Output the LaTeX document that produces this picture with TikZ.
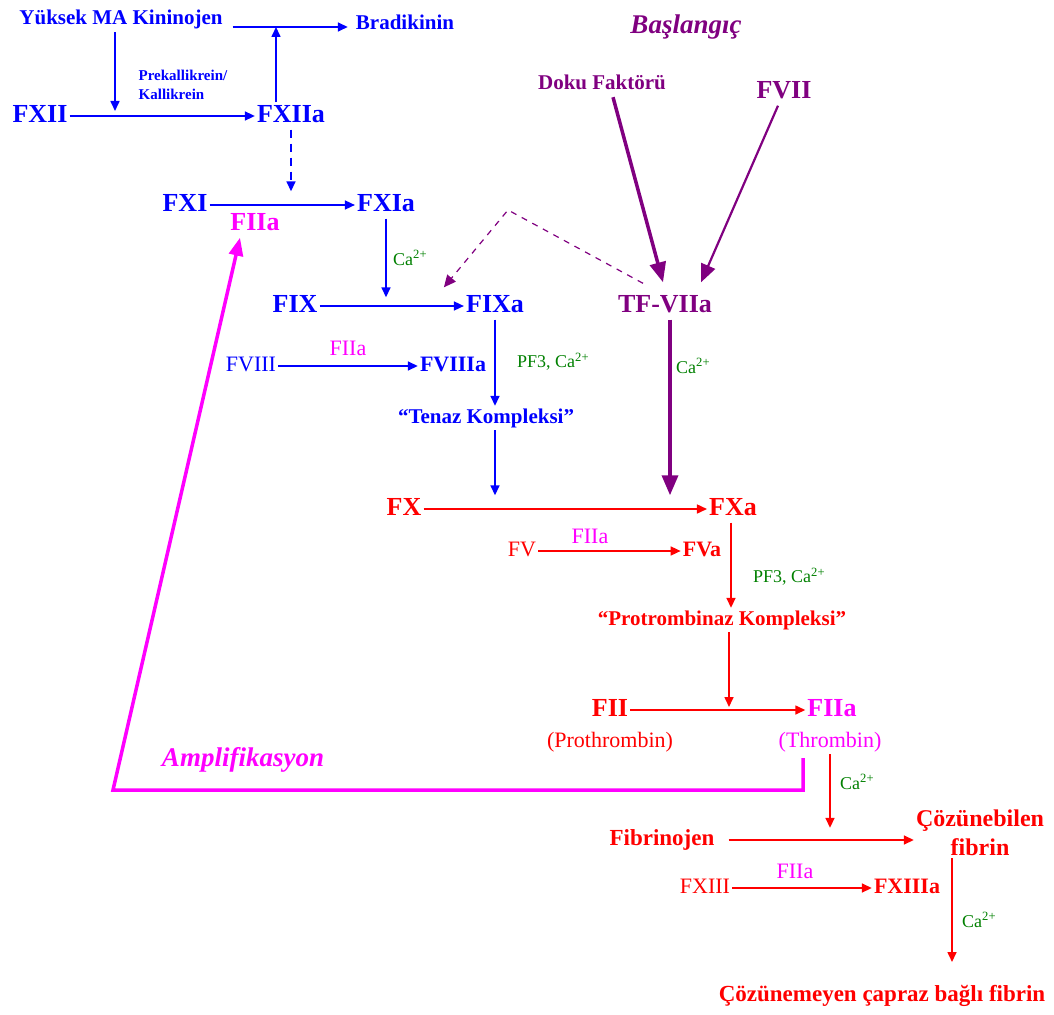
\documentclass[tikz,border=0pt]{standalone}
\usepackage{fontspec}
\setmainfont{Liberation Serif}
\usetikzlibrary{arrows.meta}
\definecolor{fblue}{RGB}{0,0,255}
\definecolor{fred}{RGB}{255,0,0}
\definecolor{fmag}{RGB}{255,0,255}
\definecolor{fpurple}{RGB}{128,0,128}
\definecolor{fgreen}{RGB}{0,128,0}
\begin{document}
\begin{tikzpicture}[x=1pt,y=-1pt,
	big/.style={inner sep=2pt,text height=18pt,text depth=5pt,font=\bfseries\fontsize{26}{28}\selectfont},
	mid/.style={inner sep=2pt,text height=15pt,text depth=4pt,font=\bfseries\fontsize{22}{24}\selectfont},
	lab/.style={inner sep=2pt,text height=15pt,text depth=5pt,font=\bfseries\fontsize{21}{23}\selectfont},
	reg/.style={inner sep=2pt,text height=15pt,text depth=5pt,font=\fontsize{22}{24}\selectfont},
	ttl/.style={inner sep=2pt,font=\bfseries\itshape\fontsize{27}{29}\selectfont},
	ion/.style={inner sep=0pt,anchor=west,text=fgreen,font=\fontsize{18}{20}\selectfont},
	arr/.style={line width=1.6pt,-{Triangle[length=10pt,width=9pt]}},
	thk/.style={line width=3.5pt,-{Triangle[length=20pt,width=16pt]}}]
	\useasboundingbox (0,0) rectangle (1054,1014);
	\node[lab,fblue] (hmwk) at (121,20) {Yüksek MA Kininojen};
	\node[lab,fblue] (brad) at (405,25) {Bradikinin};
	\node[inner sep=0pt,fblue,align=left,font=\bfseries\fontsize{15}{19}\selectfont] (prek) at (183,85) {Prekallikrein/\\Kallikrein};
	\node[big,fblue] (fxii) at (40,116) {FXII};
	\node[big,fblue] (fxiia) at (291,116) {FXIIa};
	\node[big,fblue] (fxi) at (185,205) {FXI};
	\node[big,fblue] (fxia) at (386,205) {FXIa};
	\node[big,fmag] (fiia1) at (255,224) {FIIa};
	\node[big,fblue] (fix) at (295,306) {FIX};
	\node[big,fblue] (fixa) at (495,306) {FIXa};
	\node[reg,fblue] (fviii) at (251,366) {FVIII};
	\node[mid,fblue] (fviiia) at (453,366) {FVIIIa};
	\node[reg,fmag] (fiia2) at (348,350) {FIIa};
	\node[lab,fblue] (tenaz) at (486,418) {“Tenaz Kompleksi”};
	\node[ttl,fpurple] (basla) at (686,27) {Başlangıç};
	\node[lab,fpurple] (doku) at (602,85) {Doku Faktörü};
	\node[big,fpurple] (fvii) at (784,92) {FVII};
	\node[big,fpurple] (tfviia) at (665,306) {TF-VIIa};
	\node[big,fred] (fx) at (404,509) {FX};
	\node[big,fred] (fxa) at (733,509) {FXa};
	\node[reg,fred] (fv) at (522,551) {FV};
	\node[mid,fred] (fva) at (702,551) {FVa};
	\node[reg,fmag] (fiia3) at (590,538) {FIIa};
	\node[lab,fred] (prot) at (722,620) {“Protrombinaz Kompleksi”};
	\node[big,fred] (fii) at (610,710) {FII};
	\node[big,fmag] (fiia4) at (832,710) {FIIa};
	\node[reg,fred] (prtr) at (610,742) {(Prothrombin)};
	\node[reg,fmag] (thrb) at (830,742) {(Thrombin)};
	\node[ttl,fmag] (ampl) at (243,760) {Amplifikasyon};
	\node[lab,fred,font=\bfseries\fontsize{23}{25}\selectfont] (fbnj) at (662,840) {Fibrinojen};
	\node[inner sep=2pt,fred,align=center,font=\bfseries\fontsize{24}{29}\selectfont] (cozf) at (980,833) {Çözünebilen\\fibrin};
	\node[reg,fred] (fxiii) at (705,888) {FXIII};
	\node[mid,fred] (fxiiia) at (907,888) {FXIIIa};
	\node[reg,fmag] (fiia5) at (795,873) {FIIa};
	\node[lab,fred,font=\bfseries\fontsize{23}{25}\selectfont] (cfib) at (882,996) {Çözünemeyen çapraz bağlı fibrin};
	\node[ion] (ca1) at (393,258) {Ca\textsuperscript{2+}};
	\node[ion] (pf1) at (517,362) {PF3, Ca\textsuperscript{2+}};
	\node[ion] (ca2) at (676,366) {Ca\textsuperscript{2+}};
	\node[ion] (pf2) at (753,577) {PF3, Ca\textsuperscript{2+}};
	\node[ion] (ca3) at (840,782) {Ca\textsuperscript{2+}};
	\node[ion] (ca4) at (962,920) {Ca\textsuperscript{2+}};
	\coordinate (kinj) at (276,27);
	\coordinate (prkj) at (115,111);
	\coordinate (apex) at (508,210);
	\coordinate (ampc) at (113,790);
	\coordinate (xend) at (952,962);
	\draw[arr,fblue] ([xshift=8pt]hmwk.east |- kinj) -- ([xshift=-6pt]brad.west |- kinj);
	\draw[arr,fblue] ([xshift=-15pt]fxiia.north) -- (kinj);
	\draw[arr,fblue] (prkj |- hmwk.south) -- (prkj);
	\draw[arr,fblue] (fxii) -- (fxiia);
	\draw[arr,fblue,dash pattern=on 8pt off 6pt] (fxiia.south) -- (fxiia.south |- fxi.north);
	\draw[arr,fblue] (fxi) -- (fxia);
	\draw[arr,fblue] (fxia.south) -- ([yshift=-5pt]fxia.south |- fix.north);
	\draw[arr,fblue] (fix) -- (fixa);
	\draw[arr,fblue] (fviii) -- (fviiia);
	\draw[arr,fblue] (fixa.south) -- (fixa.south |- tenaz.north);
	\draw[arr,fblue] (fixa.south |- tenaz.south) -- (fixa.south |- fx.north);
	\draw[fpurple,line width=1.2pt,dash pattern=on 6pt off 6pt,-{Triangle[length=12pt,width=11pt]}] ([xshift=-22pt,yshift=9pt]tfviia.north) -- (apex) -- ([xshift=-20pt,yshift=5pt]fixa.north west);
	\draw[thk,fpurple] ([xshift=11pt]doku.south) -- ([xshift=-2pt,yshift=10pt]tfviia.north);
	\draw[fpurple,line width=2.2pt,-{Triangle[length=18pt,width=15pt]}] ([xshift=-6pt]fvii.south) -- ([xshift=36pt,yshift=10pt]tfviia.north);
	\draw[thk,fpurple] ([xshift=5pt]tfviia.south) -- ([xshift=5pt]tfviia.south |- fxa.north);
	\draw[arr,fred] (fx) -- (fxa);
	\draw[arr,fred] (fv) -- (fva);
	\draw[arr,fred] ([xshift=-2pt]fxa.south) -- ([xshift=-2pt]fxa.south |- prot.north);
	\draw[arr,fred] ([xshift=-4pt]fxa.south |- prot.south) -- ([xshift=-4pt,yshift=3pt]fxa.south |- fii);
	\draw[arr,fred] (fii) -- (fiia4);
	\draw[fmag,line width=3.5pt,-{Triangle[length=18pt,width=14pt]}] ([xshift=-27pt,yshift=-4pt]thrb.south) |- (ampc) -- ([xshift=-15pt]fiia1.south);
	\draw[arr,fred] (thrb.south) -- (thrb.south |- fbnj.north);
	\draw[arr,fred] ([xshift=12pt]fbnj.east) -- (cozf.west |- fbnj.east);
	\draw[arr,fred] (fxiii) -- (fxiiia);
	\draw[arr,fred] (xend |- cozf.south) -- (xend);
\end{tikzpicture}
\end{document}
